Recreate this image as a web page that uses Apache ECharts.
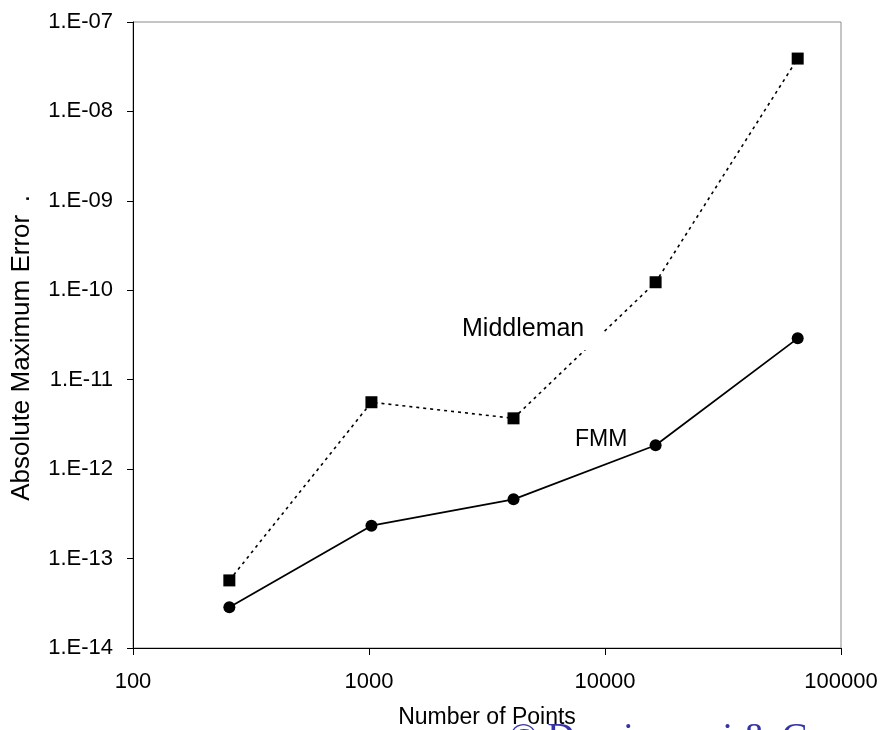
<!DOCTYPE html>
<html>
<head>
<meta charset="utf-8">
<title>Absolute Maximum Error vs Number of Points</title>
<script src="https://cdn.jsdelivr.net/npm/echarts@6/dist/echarts.min.js"></script>
<style>
  html, body { margin: 0; padding: 0; background: #fff; }
  #chart { width: 883px; height: 730px; }
</style>
</head>
<body>
<div id="chart"></div>
<script>
// number of points (x) and errors for each method
var points = [256, 1024, 4096, 16384, 65536];
var middleman = [5.7e-14, 5.6e-12, 3.7e-12, 1.23e-10, 3.9e-8];
var fmm = [2.85e-14, 2.33e-13, 4.6e-13, 1.85e-12, 2.9e-11];

var xTickLabels = ['100', '1000', '10000', '100000'];
var yTickLabels = ['1.E-14', '1.E-13', '1.E-12', '1.E-11', '1.E-10', '1.E-09', '1.E-08', '1.E-07'];

var font = "'Liberation Sans', Arial, sans-serif";

function pairs(xs, ys) {
  return xs.map(function (x, i) { return [x, ys[i]]; });
}

var myChart = echarts.init(document.getElementById('chart'));

var option = {
  animation: false,
  backgroundColor: '#fff',
  textStyle: { fontFamily: font, color: '#000' },
  grid: {
    left: 133,
    right: 42,
    top: 22,
    bottom: 82,
    show: true,
    borderColor: '#8c8c8c',
    borderWidth: 1,
    outerBoundsMode: 'none'
  },
  xAxis: {
    type: 'log',
    logBase: 10,
    min: 100,
    max: 100000,
    name: 'Number of Points',
    nameLocation: 'middle',
    nameGap: 58,
    nameTextStyle: { fontSize: 23, color: '#000', fontFamily: font },
    axisLine: { lineStyle: { color: '#000', width: 1 } },
    axisTick: { show: true, inside: false, length: 7, lineStyle: { color: '#000' } },
    minorTick: { show: false },
    splitLine: { show: false },
    axisLabel: {
      fontSize: 22,
      color: '#000',
      margin: 23,
      formatter: function (v) {
        return xTickLabels[Math.round(Math.log10(v)) - 2];
      }
    }
  },
  yAxis: {
    type: 'log',
    logBase: 10,
    min: 1e-14,
    max: 1e-7,
    splitNumber: 7,
    name: 'Absolute Maximum Error \u2009.',
    nameLocation: 'middle',
    nameGap: 98,
    nameTextStyle: { fontSize: 26, color: '#000', fontFamily: font, padding: [0, 26, 0, 0] },
    axisLine: { show: true, lineStyle: { color: '#000', width: 1 } },
    axisTick: { show: true, inside: false, length: 6, lineStyle: { color: '#000' } },
    minorTick: { show: false },
    splitLine: { show: false },
    axisLabel: {
      fontSize: 22,
      color: '#000',
      margin: 20,
      formatter: function (v) {
        return yTickLabels[Math.round(Math.log10(v)) + 14];
      }
    }
  },
  series: [
    {
      name: 'Middleman',
      type: 'line',
      data: pairs(points, middleman),
      symbol: 'rect',
      symbolSize: 12,
      itemStyle: { color: '#000' },
      lineStyle: { color: '#000', width: 1.6, type: [3, 4] },
      z: 2
    },
    {
      name: 'FMM',
      type: 'line',
      data: pairs(points, fmm),
      symbol: 'circle',
      symbolSize: 12,
      itemStyle: { color: '#000' },
      lineStyle: { color: '#000', width: 1.8 },
      z: 3
    }
  ],
  graphic: [
    {
      type: 'rect',
      z: 20,
      shape: { x: 455, y: 312, width: 147, height: 38 },
      style: { fill: '#fff' }
    },
    {
      type: 'text',
      z: 21,
      left: 462,
      top: 317,
      style: { text: 'Middleman', font: '25px ' + font, fill: '#000' }
    },
    {
      type: 'text',
      z: 21,
      left: 575,
      top: 428,
      style: { text: 'FMM', font: '23px ' + font, fill: '#000' }
    },
    {
      type: 'text',
      z: 21,
      x: 509,
      y: 720,
      style: {
        text: '\u00a9 Duraiswami & Gumerov',
        font: "38px 'Liberation Serif', 'Times New Roman', serif",
        fill: '#3434a6',
        verticalAlign: 'top'
      }
    }
  ]
};

myChart.setOption(option);
</script>
</body>
</html>
